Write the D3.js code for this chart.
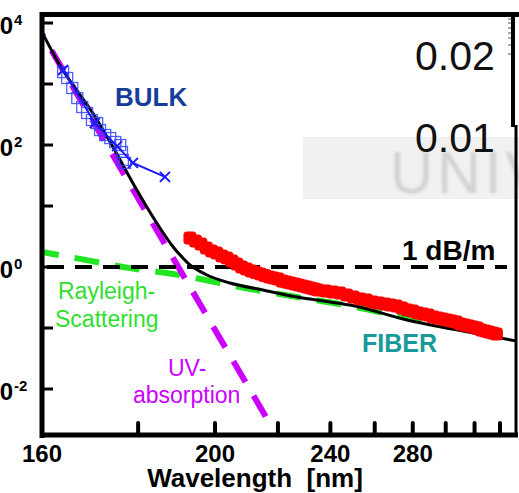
<!DOCTYPE html>
<html>
<head>
<meta charset="utf-8">
<script src="https://cdn.jsdelivr.net/npm/d3@7"></script>
<style>
  body { margin: 0; background: #fff; }
  svg { display: block; font-family: "Liberation Sans", Arial, sans-serif; }
</style>
</head>
<body>
<div id="canvas"></div>
<script>
/*
Values: wavelength in nm, attenuation in dB/m */
var uv_wl  = [160, 215.9];
var uv_att = [6600, 0.00348];

var rayleigh_wl  = [160, 169.8, 178.1, 188.6, 198.6, 210.7, 224.7, 248.5, 276.8, 318.9, 354.8];
var rayleigh_att = [1.76, 1.25, 0.96, 0.77, 0.59, 0.436, 0.335, 0.23, 0.146, 0.0927, 0.074];

var total_wl  = [160, 163.0, 170.9, 174.3, 179.7, 184.0, 188.6, 190.4, 193.0, 197.7,
                 204.4, 214.9, 226.9, 239.9, 248.5, 276.8, 318.9, 354.8];
var total_att = [7120, 2300, 257, 92.7, 18.3, 5.89, 2.13, 1.57, 1.08, 0.74,
                 0.547, 0.42, 0.322, 0.267, 0.238, 0.135, 0.083, 0.061];

var fiber_wl  = [193, 194.5, 196, 197.5, 199, 200.5, 202, 203.5, 205, 206.5, 208, 209.5, 211, 212.5,
                 214, 215.5, 217, 218.5, 220, 221.5, 223, 224.5, 226, 227.5, 229, 230.5, 232, 233.5, 235,
                 238, 241, 244, 247, 250, 253, 256, 259, 262, 265, 268, 271, 274, 277, 280,
                 283, 286, 289, 292, 295, 298, 301, 304, 307, 310, 313, 316, 319, 322, 325,
                 328, 331, 334, 337];
var fiber_att = [2.99, 2.67, 2.38, 2.05, 1.83, 1.70, 1.51, 1.41, 1.25, 1.12, 1.00, 0.93, 0.86, 0.81,
                 0.77, 0.726, 0.686, 0.66, 0.636, 0.59, 0.568, 0.547, 0.526, 0.507, 0.488, 0.47, 0.453, 0.436, 0.420,
                 0.404, 0.389, 0.375, 0.348, 0.322, 0.299, 0.288, 0.267, 0.257, 0.247, 0.238, 0.230, 0.213, 0.197, 0.190,
                 0.176, 0.170, 0.163, 0.151, 0.146, 0.141, 0.135, 0.130, 0.125, 0.116, 0.112, 0.108, 0.104, 0.100, 0.0927,
                 0.0893, 0.0860, 0.0828, 0.0797];

var bulk_sq_wl  = [164.0, 164.8, 165.8, 166.8, 167.8, 168.8, 169.8, 170.9, 171.5, 172.6, 173.7, 174.8, 175.9, 176.3, 176.5, 177.0];
var bulk_sq_att = [1570, 1255, 860, 589, 420, 335, 257, 229, 176, 146, 130, 112, 100, 77, 57, 51];

var bulk_x_wl  = [164.0, 170.4, 175.2, 178.8, 186.5];
var bulk_x_att = [1700, 229, 96, 51, 30];

var ref_level = 1;
var ref_wl = [160, 346];

var x_ticks  = [180, 200, 220, 240, 260, 280, 300, 320, 340];
var x_labels = [160, 200, 240, 280];
var y_exps   = [-2, -1, 0, 1, 2, 3, 4];
var y_labels = [4, 2, 0, -2];

var W = 519, H = 493;
var left = 42, right = 515, top_ = 14, bottom = 435;

/*
x axis is linear in 1/wavelength */
var xs = d3.scaleLinear().domain([1 / 160, 1 / 353]).range([left, right]);
function x(wl) { return xs(1 / wl); }
var y = d3.scaleLog().domain([Math.pow(10, -2.754), Math.pow(10, 4.148)]).range([bottom, top_]);

function pairs(a, b) { return a.map(function(d, i) { return [d, b[i]]; }); }

var line = d3.line().x(function(d) { return x(d[0]); }).y(function(d) { return y(d[1]); });
var curve = d3.line().curve(d3.curveMonotoneX).x(function(d) { return x(d[0]); }).y(function(d) { return y(d[1]); });

var svg = d3.select("#canvas").append("svg").attr("width", W).attr("height", H);

svg.append("defs").append("clipPath").attr("id", "plot")
  .append("rect").attr("x", left).attr("y", top_).attr("width", right - left).attr("height", bottom - top_);
svg.select("defs").append("filter").attr("id", "blur")
  .append("feGaussianBlur").attr("stdDeviation", 1.4);

/*
Bits of the neighbouring panel that got cut into the picture */
svg.append("rect").attr("x", 303).attr("y", 137).attr("width", 216).attr("height", 62).attr("fill", "#f1f1f1");
svg.append("text").attr("x", 390).attr("y", 193).attr("font-size", 60).attr("fill", "#d2d2d2")
  .attr("letter-spacing", 4).attr("filter", "url(#blur)").text("UNIV");
svg.append("text").attr("x", 415).attr("y", 70).attr("font-size", 41).attr("fill", "#111").text("0.02");
svg.append("text").attr("x", 415).attr("y", 152).attr("font-size", 41).attr("fill", "#111").text("0.01");

var g = svg.append("g").attr("clip-path", "url(#plot)");

// Rayleigh scattering
g.append("path").datum(pairs(rayleigh_wl, rayleigh_att)).attr("d", curve)
  .attr("fill", "none").attr("stroke", "#22e622").attr("stroke-width", 6)
  .attr("stroke-dasharray", "25,16").attr("stroke-dashoffset", 8);

// UV absorption
g.append("path").datum(pairs(uv_wl, uv_att)).attr("d", line)
  .attr("fill", "none").attr("stroke", "#cc00ff").attr("stroke-width", 6)
  .attr("stroke-dasharray", "24,16").attr("stroke-dashoffset", 21);

// 1 dB/m reference
g.append("path").datum(ref_wl.map(function(w) { return [w, ref_level]; })).attr("d", line)
  .attr("fill", "none").attr("stroke", "#000").attr("stroke-width", 4)
  .attr("stroke-dasharray", "17,11").attr("stroke-dashoffset", 23);

// total
g.append("path").datum(pairs(total_wl, total_att)).attr("d", curve)
  .attr("fill", "none").attr("stroke", "#000").attr("stroke-width", 3);

// fiber measurement
g.selectAll("rect.fiber").data(pairs(fiber_wl, fiber_att)).enter().append("rect")
  .attr("class", "fiber")
  .attr("x", function(d) { return x(d[0]) - 6.5; })
  .attr("y", function(d) { return y(d[1]) - 6.5; })
  .attr("width", 13).attr("height", 13).attr("rx", 3.5)
  .attr("fill", "#ff0000");

// bulk measurements
g.selectAll("rect.bulk").data(pairs(bulk_sq_wl, bulk_sq_att)).enter().append("rect")
  .attr("class", "bulk")
  .attr("x", function(d) { return x(d[0]) - 5.5; })
  .attr("y", function(d) { return y(d[1]) - 5.5; })
  .attr("width", 11).attr("height", 11)
  .attr("fill", "none").attr("stroke", "#3344ff").attr("stroke-width", 1.3).attr("stroke-opacity", 0.85);

g.append("path").datum(pairs(bulk_x_wl, bulk_x_att)).attr("d", line)
  .attr("fill", "none").attr("stroke", "#1a1aff").attr("stroke-width", 2);
g.selectAll("path.xm").data(pairs(bulk_x_wl, bulk_x_att)).enter().append("path")
  .attr("class", "xm")
  .attr("d", function(d) {
    var cx = x(d[0]), cy = y(d[1]), s = 5;
    return "M" + (cx - s) + "," + (cy - s) + "L" + (cx + s) + "," + (cy + s) +
           "M" + (cx - s) + "," + (cy + s) + "L" + (cx + s) + "," + (cy - s);
  })
  .attr("stroke", "#1a1aff").attr("stroke-width", 2);

/*
Frame and ticks */
svg.append("line").attr("x1", left - 2).attr("x2", W).attr("y1", 14.5).attr("y2", 14.5)
  .attr("stroke", "#000").attr("stroke-width", 5);
svg.append("line").attr("x1", left).attr("x2", left).attr("y1", 12).attr("y2", bottom + 3)
  .attr("stroke", "#000").attr("stroke-width", 5);
svg.append("line").attr("x1", left - 2).attr("x2", 518).attr("y1", bottom).attr("y2", bottom)
  .attr("stroke", "#000").attr("stroke-width", 5);
svg.append("line").attr("x1", 513).attr("x2", 513).attr("y1", 12).attr("y2", 127)
  .attr("stroke", "#000").attr("stroke-width", 4);
svg.append("line").attr("x1", 516).attr("x2", 516).attr("y1", 125).attr("y2", bottom + 2)
  .attr("stroke", "#000").attr("stroke-width", 3);
[19, 23, 28, 33, 38, 45, 54].forEach(function(t) {
  svg.append("line").attr("x1", 508).attr("x2", 511).attr("y1", t).attr("y2", t)
    .attr("stroke", "#555").attr("stroke-width", 1);
});

svg.selectAll("line.xt").data(x_ticks).enter().append("line").attr("class", "xt")
  .attr("x1", function(d) { return x(d); }).attr("x2", function(d) { return x(d); })
  .attr("y1", bottom).attr("y2", bottom - 12)
  .attr("stroke", "#000").attr("stroke-width", 4).attr("stroke-linecap", "round");

svg.selectAll("line.yt").data(y_exps).enter().append("line").attr("class", "yt")
  .attr("x1", left).attr("x2", left + 11)
  .attr("y1", function(d) { return y(Math.pow(10, d)); }).attr("y2", function(d) { return y(Math.pow(10, d)); })
  .attr("stroke", "#000").attr("stroke-width", 3);

svg.selectAll("text.xl").data(x_labels).enter().append("text").attr("class", "xl")
  .attr("x", function(d) { return x(d); }).attr("y", 462)
  .attr("text-anchor", "middle").attr("font-size", 24).attr("font-weight", "bold")
  .text(function(d) { return d; });

var yl = svg.selectAll("text.yl").data(y_labels).enter().append("text").attr("class", "yl")
  .attr("x", -13.7).attr("y", function(d) { return y(Math.pow(10, d)) + 10.5; })
  .attr("font-size", 24).attr("font-weight", "bold");
yl.append("tspan").text("10");
yl.append("tspan").attr("dx", 1).attr("dy", -9).attr("font-size", 15)
  .text(function(d) { return d < 0 ? "-" + (-d) : d; });

svg.append("text").attr("x", 255).attr("y", 487).attr("text-anchor", "middle")
  .attr("font-size", 26).attr("font-weight", "bold").attr("xml:space", "preserve")
  .text("Wavelength  [nm]");

/*
Annotations */
function label(px, py, str, size, weight, color) {
  return svg.append("text").attr("x", px).attr("y", py).attr("font-size", size)
    .attr("font-weight", weight).attr("fill", color).text(str);
}
label(115, 106, "BULK", 26, "bold", "#173c9c");
label(362, 352, "FIBER", 25, "bold", "#199a9a");
label(402, 260, "1 dB/m", 28, "bold", "#000");
label(58, 299, "Rayleigh-", 23, "normal", "#2ee02e");
label(55, 327, "Scattering", 23, "normal", "#2ee02e");
label(168, 376, "UV-", 23, "normal", "#cc00ff");
label(133, 403, "absorption", 23, "normal", "#cc00ff");
</script>
</body>
</html>
